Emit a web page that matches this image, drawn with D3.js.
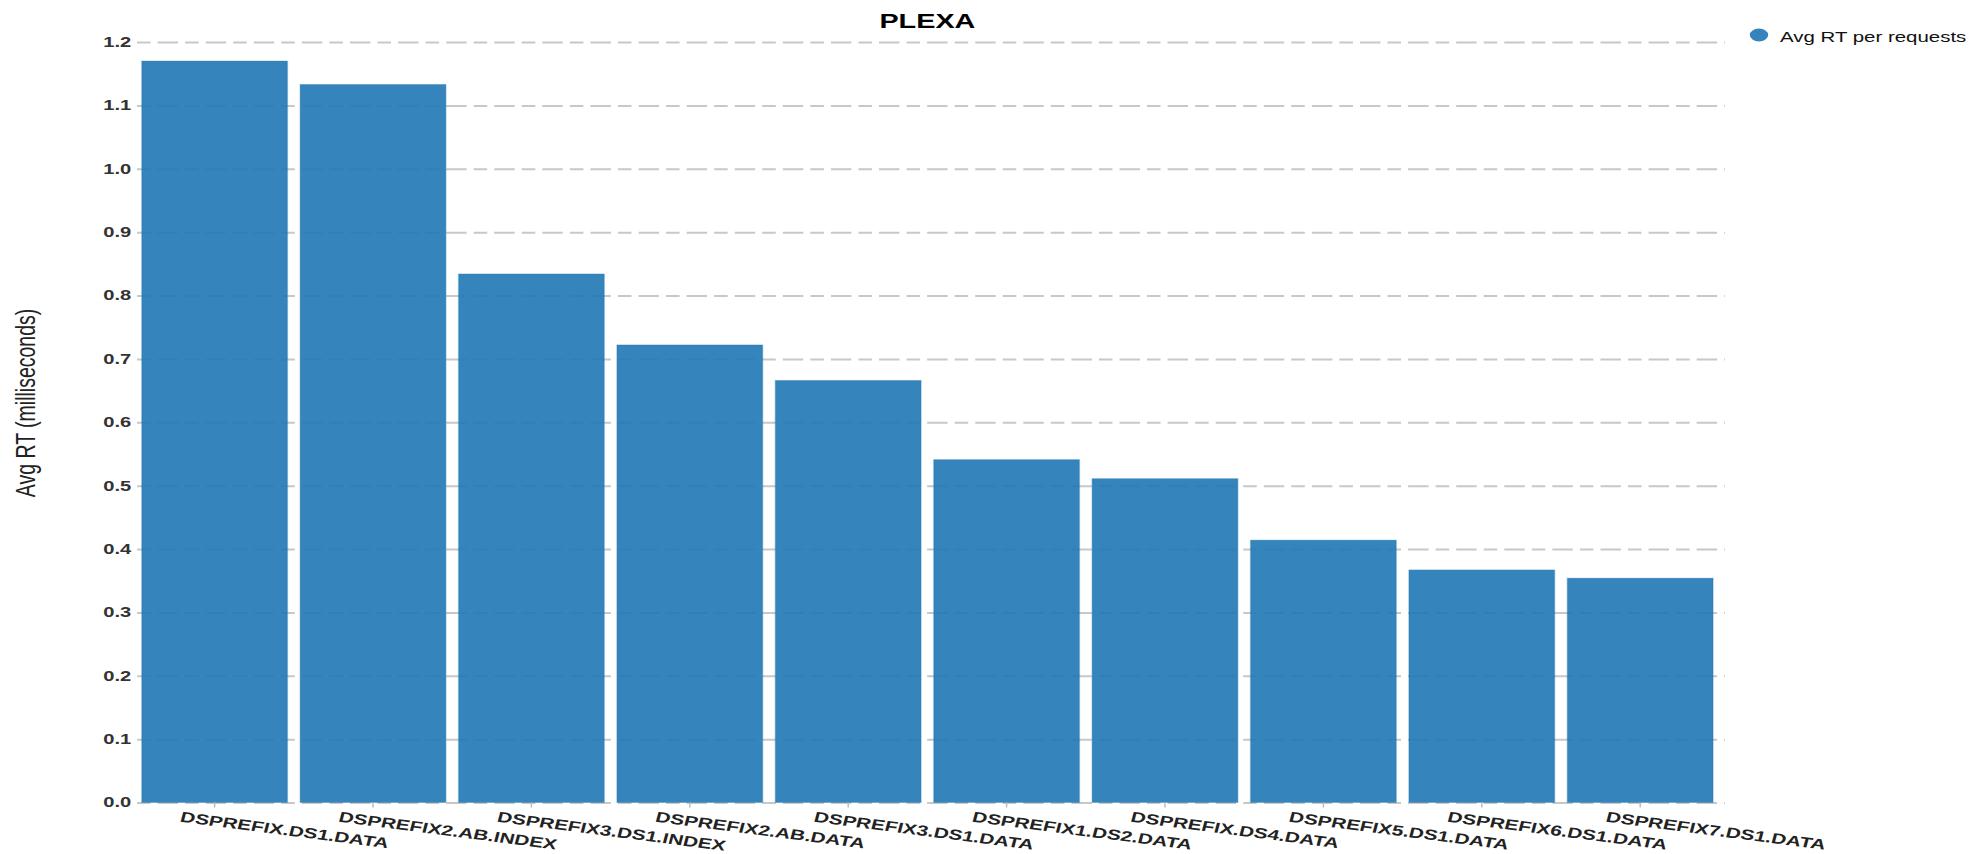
<!DOCTYPE html>
<html><head><meta charset="utf-8">
<script src="https://cdn.jsdelivr.net/npm/d3@7"></script>
<style>
body{margin:0;background:#fff;}
svg{display:block;font-family:"Liberation Sans",Arial,sans-serif;}
</style>
</head><body>
<svg id="chart" width="1969" height="854"></svg>
<script>
const categories = ["DSPREFIX.DS1.DATA","DSPREFIX2.AB.INDEX","DSPREFIX3.DS1.INDEX","DSPREFIX2.AB.DATA","DSPREFIX3.DS1.DATA","DSPREFIX1.DS2.DATA","DSPREFIX.DS4.DATA","DSPREFIX5.DS1.DATA","DSPREFIX6.DS1.DATA","DSPREFIX7.DS1.DATA"];
const avgRT = [1.170, 1.133, 0.834, 0.722, 0.666, 0.541, 0.511, 0.414, 0.367, 0.354];
const yTicks = [0,0.1,0.2,0.3,0.4,0.5,0.6,0.7,0.8,0.9,1.0,1.1,1.2];
const chartTitle = "PLEXA";
const seriesName = "Avg RT per requests";
const yLabel = "Avg RT (milliseconds)";

const K = 1.44; // horizontal stretch of the reference rendering
const svg = d3.select("#chart");
const g = svg.append("g").attr("transform", `scale(${K},1)`);

const x0 = 137 / K, x1 = 1717.8 / K, gridEnd = 1725 / K;
const x = d3.scaleBand().domain(categories).range([x0, x1]).paddingInner(0.08).paddingOuter(0.03);
const y = d3.scaleLinear().domain([0, 1.2]).range([802.5, 42]);
const color = "#1f77b4";

// gridlines
const grid = g.append("g").attr("transform", `translate(${x0},0)`)
  .call(d3.axisLeft(y).tickValues(yTicks).tickSize(-(gridEnd - x0)).tickFormat(""));
grid.select(".domain").remove();
grid.selectAll(".tick line").attr("stroke", "#c8c8c8").attr("stroke-width", 2)
  .attr("stroke-dasharray", "9.4,4.9,14.2,4.9");

// y tick labels
const yAxis = g.append("g").attr("transform", `translate(${x0},0)`)
  .call(d3.axisLeft(y).tickValues(yTicks).tickSize(0).tickPadding(4).tickFormat(d3.format(".1f")));
yAxis.select(".domain").remove();
yAxis.selectAll("text").attr("font-size", 14).attr("font-weight", "bold").attr("fill", "#333")
  .attr("font-family", "Liberation Sans, Arial, sans-serif");

// bars
g.append("g").selectAll("rect").data(categories).join("rect")
  .attr("x", d => x(d))
  .attr("width", x.bandwidth())
  .attr("y", (d, i) => y(avgRT[i]))
  .attr("height", (d, i) => y(0) - y(avgRT[i]))
  .attr("fill", color).attr("fill-opacity", 0.9)
  .attr("stroke", color).attr("stroke-opacity", 0.3).attr("stroke-width", 1);

// x axis
const xAxis = g.append("g").attr("transform", `translate(0,${y(0)})`)
  .call(d3.axisBottom(x).tickSize(5).tickPadding(0));
xAxis.select(".domain").remove();
xAxis.selectAll(".tick line").attr("stroke", "#bbb").attr("stroke-width", 1);
xAxis.selectAll("text")
  .attr("font-size", 14.5).attr("font-weight", "bold").attr("fill", "#222")
  .attr("font-family", "Liberation Sans, Arial, sans-serif")
  .attr("text-anchor", "start")
  .attr("dy", null).attr("y", null).attr("x", null)
  .attr("transform", "translate(-24.5,19) rotate(10.5)");

// title
g.append("text").attr("x", (x0 + x1) / 2).attr("y", 28).attr("text-anchor", "middle")
  .attr("font-size", 20).attr("font-weight", "bold").attr("fill", "#000").text(chartTitle);

// legend
const leg = g.append("g").attr("transform", `translate(${1759 / K},35)`);
leg.append("circle").attr("r", 6.4).attr("fill", color).attr("fill-opacity", 0.9);
leg.append("text").attr("x", (1780 - 1759) / K).attr("y", 6.5)
  .attr("font-size", 14.2).attr("fill", "#111").text(seriesName);

// y axis label
g.append("text").attr("transform", `translate(${35 / K},403) rotate(-90)`)
  .attr("text-anchor", "middle").attr("font-size", 19.5).attr("fill", "#222").text(yLabel);
</script>
</body></html>
